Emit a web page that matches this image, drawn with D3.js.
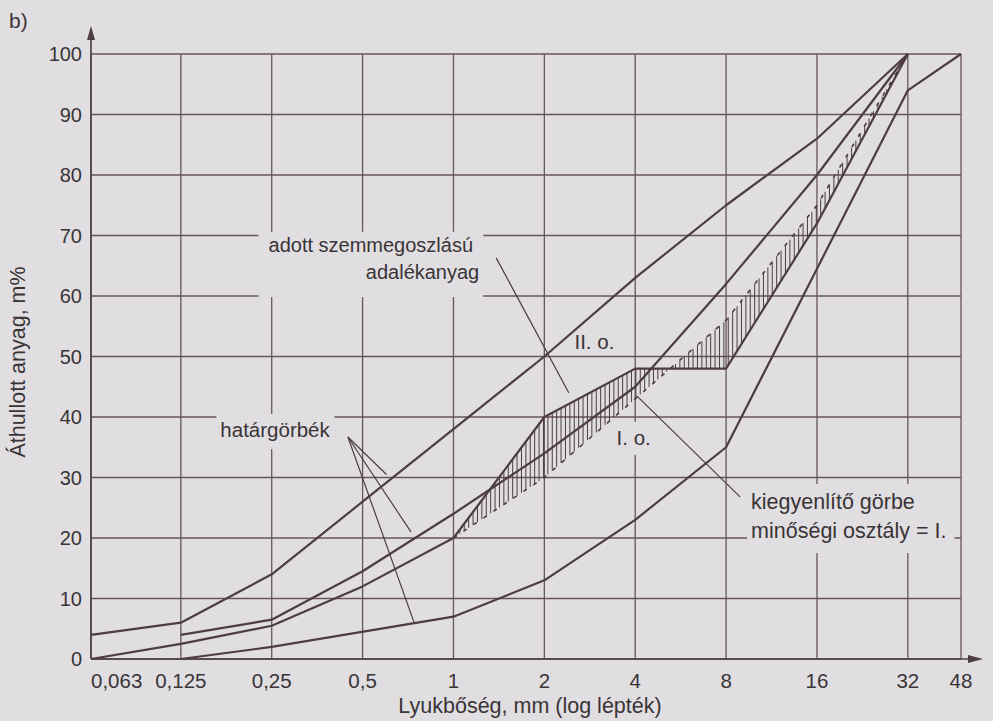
<!DOCTYPE html>
<html>
<head>
<meta charset="utf-8">
<script src="https://cdn.jsdelivr.net/npm/d3@7"></script>
<style>
  html, body { margin: 0; padding: 0; background: #e0dee0; }
  svg { display: block; }
  text { font-family: "Liberation Sans", Arial, Helvetica, sans-serif; fill: #3a3437; }
</style>
</head>
<body>
<svg id="chart" width="993" height="721"></svg>
<script>
// Sieve sizes (mm) on the log axis and their printed labels
const sieveSizes  = [0.063, 0.125, 0.25, 0.5, 1, 2, 4, 8, 16, 32, 48];
const sieveLabels = ["0,063", "0,125", "0,25", "0,5", "1", "2", "4", "8", "16", "32", "48"];
const percentTicks = [0, 10, 20, 30, 40, 50, 60, 70, 80, 90, 100];

// Grading limit curves (passing %, by sieve size)
const upperSizes  = [0.063, 0.125, 0.25, 0.5, 1, 2, 4, 8, 16, 32];
const upperValues = [4, 6, 14, 26, 38, 50, 63, 75, 86, 100];

const middleSizes  = [0.125, 0.25, 0.5, 1, 2, 4, 8, 16, 32];
const middleValues = [4, 6.5, 14.5, 24, 34, 45, 62, 80, 100];

const lowerSizes  = [0.125, 0.25, 1, 2, 4, 8, 32, 48];
const lowerValues = [0, 2, 7, 13, 23, 35, 94, 100];

// Balancing curve, quality class I.
const balanceSizes  = [0.063, 0.125, 0.25, 0.5, 1, 2, 4, 8, 16, 32];
const balanceValues = [0, 2.5, 5.5, 12, 20, 30, 43, 56, 75, 100];

// Aggregate with the given grading
const givenSizes  = [1, 2, 4, 8, 16, 32];
const givenValues = [20, 40, 48, 48, 72, 100];

const zip = (s, v) => s.map((d, i) => [d, v[i]]);
const upperCurve   = zip(upperSizes, upperValues);
const middleCurve  = zip(middleSizes, middleValues);
const lowerCurve   = zip(lowerSizes, lowerValues);
const balanceCurve = zip(balanceSizes, balanceValues);
const givenCurve   = zip(givenSizes, givenValues);

const svg = d3.select("#chart");
const bg = "#e0dee0";
const lineColor = "#4d3d43";
const gridColor = "#68555b";

const x = d3.scaleLog().base(2).domain([0.063, 48]).range([91, 961]);
const y = d3.scaleLinear().domain([0, 100]).range([659, 54]);

const gGrid  = svg.append("g");
const gMask  = svg.append("g");
const gHatch = svg.append("g");
const gLines = svg.append("g");
const gText  = svg.append("g");

// grid
gGrid.selectAll("line.v").data(sieveSizes).join("line")
  .attr("x1", d => x(d)).attr("x2", d => x(d))
  .attr("y1", y(0)).attr("y2", y(100))
  .attr("stroke", gridColor).attr("stroke-width", 1.3);
gGrid.selectAll("line.h").data(percentTicks).join("line")
  .attr("x1", x(0.063)).attr("x2", x(48))
  .attr("y1", d => y(d)).attr("y2", d => y(d))
  .attr("stroke", gridColor).attr("stroke-width", 1.3);

// axes with arrows
gGrid.append("line").attr("x1", x(0.063)).attr("x2", x(0.063))
  .attr("y1", y(0)).attr("y2", y(100) - 20)
  .attr("stroke", lineColor).attr("stroke-width", 1.6);
gGrid.append("path")
  .attr("d", `M${x(0.063)},${y(100) - 28} l-4,14 l8,0 z`)
  .attr("fill", lineColor);
gGrid.append("line").attr("x1", x(0.063)).attr("x2", x(48) + 14)
  .attr("y1", y(0)).attr("y2", y(0))
  .attr("stroke", lineColor).attr("stroke-width", 1.6);
gGrid.append("path")
  .attr("d", `M${x(48) + 22},${y(0)} l-15,-4 l0,8 z`)
  .attr("fill", lineColor);

// tick labels
gText.selectAll("text.yt").data(percentTicks).join("text")
  .attr("x", x(0.063) - 9).attr("y", d => y(d)).attr("dy", "0.36em")
  .attr("text-anchor", "end").attr("font-size", 20).text(d => d);
gText.selectAll("text.xt").data(sieveSizes).join("text")
  .attr("x", d => x(d)).attr("y", 688)
  .attr("text-anchor", (d, i) => i === 0 ? "start" : "middle")
  .attr("font-size", 20.5).text((d, i) => sieveLabels[i]);

// axis titles
gText.append("text").attr("x", 530).attr("y", 713)
  .attr("text-anchor", "middle").attr("font-size", 21.5)
  .text("Lyukbőség, mm (log lépték)");
gText.append("text").attr("transform", "translate(25,362) rotate(-90)")
  .attr("text-anchor", "middle").attr("font-size", 21.5)
  .text("Áthullott anyag, m%");
gText.append("text").attr("x", 9).attr("y", 28).attr("font-size", 21).text("b)");

// annotations placed in data coordinates
const annotations = [
  { size: 20, lines: [["adott szemmegoszlású", 0.244, 67.3], ["adalékanyag", 0.5125, 62.8]], pad: [10, 4, 2, 14] },
  { size: 20.5, lines: [["határgörbék", 0.169, 36.7]], pad: [4, 4, 4, 8] },
  { size: 20.5, lines: [["II. o.", 2.517, 51.2]], pad: [3, 3, 0, 0] },
  { size: 20.5, lines: [["I. o.", 3.47, 35.4]], pad: [3, 3, 4, 6] },
  { size: 21.5, lines: [["kiegyenlítő görbe", 9.68, 24.8], ["minőségi osztály = I.", 9.68, 20.0]], pad: [4, 8, 6, 10] }
];
annotations.forEach(a => {
  const nodes = a.lines.map(([t, s, v]) =>
    gText.append("text").attr("x", x(s)).attr("y", y(v)).attr("font-size", a.size).text(t).node());
  const boxes = nodes.map(n => n.getBBox());
  const x0 = d3.min(boxes, b => b.x) - a.pad[0];
  const x1 = d3.max(boxes, b => b.x + b.width) + a.pad[1];
  const y0 = d3.min(boxes, b => b.y) - a.pad[2];
  const y1 = d3.max(boxes, b => b.y + b.height) + a.pad[3];
  gMask.append("rect").attr("x", x0).attr("y", y0)
    .attr("width", x1 - x0).attr("height", y1 - y0).attr("fill", bg);
});

// leader lines [from, to] in (size, %)
const leaders = [
  [[1.385, 66.3], [2.41, 44]],
  [[0.447, 36.7], [0.60, 30.5]],
  [[0.447, 36.7], [0.723, 21]],
  [[0.447, 36.7], [0.74, 6.1]],
  [[8.9, 26.8], [4.05, 43.5]]
];
gLines.selectAll("line.leader").data(leaders).join("line")
  .attr("x1", d => x(d[0][0])).attr("y1", d => y(d[0][1]))
  .attr("x2", d => x(d[1][0])).attr("y2", d => y(d[1][1]))
  .attr("stroke", lineColor).attr("stroke-width", 1.2);

// curves
const line = d3.line().x(d => x(d[0])).y(d => y(d[1]));
const drawCurve = (data, opts = {}) => gLines.append("path").datum(data)
  .attr("d", line).attr("fill", "none")
  .attr("stroke", lineColor).attr("stroke-width", opts.w || 2.2)
  .attr("stroke-dasharray", opts.dash || null)
  .attr("stroke-linejoin", "round");

drawCurve(upperCurve);
drawCurve(middleCurve);
drawCurve(lowerCurve);
drawCurve(balanceCurve.filter(d => d[0] <= 1));
drawCurve(balanceCurve.filter(d => d[0] >= 1), { w: 1.6, dash: "4,8" });
drawCurve(givenCurve);

// hatching between the given grading and the balancing curve
function yAt(curve, px) {
  const pts = curve.map(d => [x(d[0]), y(d[1])]);
  for (let i = 0; i < pts.length - 1; i++) {
    if (px >= pts[i][0] && px <= pts[i + 1][0]) {
      const t = (px - pts[i][0]) / (pts[i + 1][0] - pts[i][0]);
      return pts[i][1] + t * (pts[i + 1][1] - pts[i][1]);
    }
  }
  return null;
}
const hatchX = d3.range(x(1) + 2, x(32) - 1, 4.4);
gHatch.selectAll("line").data(hatchX).join("line")
  .attr("x1", d => d).attr("x2", d => d)
  .attr("y1", d => yAt(givenCurve, d)).attr("y2", d => yAt(balanceCurve, d))
  .attr("stroke", lineColor).attr("stroke-width", 1);
</script>
</body>
</html>
